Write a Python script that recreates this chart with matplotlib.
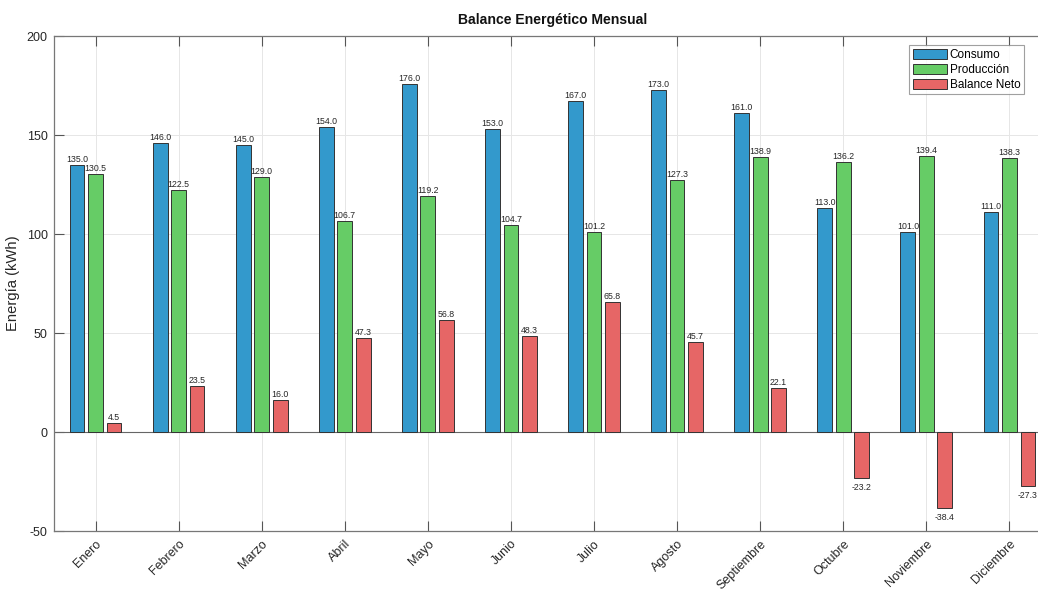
import matplotlib
import numpy as np

matplotlib.use("Agg")
import matplotlib.pyplot as plt  # noqa: E402

months = ["Enero", "Febrero", "Marzo", "Abril", "Mayo", "Junio", "Julio",
          "Agosto", "Septiembre", "Octubre", "Noviembre", "Diciembre"]
consumo = [135.0, 146.0, 145.0, 154.0, 176.0, 153.0, 167.0, 173.0, 161.0, 113.0, 101.0, 111.0]
produccion = [130.5, 122.5, 129.0, 106.7, 119.2, 104.7, 101.2, 127.3, 138.9, 136.2, 139.4, 138.3]
balance = [4.5, 23.5, 16.0, 47.3, 56.8, 48.3, 65.8, 45.7, 22.1, -23.2, -38.4, -27.3]

series = [
    ("Consumo", consumo, "#3399cc"),
    ("Producción", produccion, "#66cc66"),
    ("Balance Neto", balance, "#e66666"),
]

plt.rcParams["font.family"] = ["Liberation Sans", "DejaVu Sans"]
plt.rcParams["axes.unicode_minus"] = False

fig = plt.figure(figsize=(10.38, 5.92), dpi=100)
# the plot area runs past the right edge of the picture, as in the original
ax = fig.add_axes([0.052, 0.103, 0.9605, 0.836])

x = np.arange(1, len(months) + 1)
step = 0.2222
width = 0.178
text_color = "#262626"

for i, (name, values, color) in enumerate(series):
    pos = x + (i - 1) * step
    ax.bar(pos, values, width=width, color=color, edgecolor="#333333",
           linewidth=0.7, label=name, zorder=3)
    for px, v in zip(pos, values):
        if v >= 0:
            ax.text(px, v + 0.5, f"{v:.1f}", ha="center", va="bottom",
                    fontsize=6.3, color=text_color, zorder=4)
        else:
            ax.text(px, v - 2.5, f"{v:.1f}", ha="center", va="top",
                    fontsize=6.3, color=text_color, zorder=4)

ax.axhline(0, color="#666666", linewidth=0.8, zorder=2)

ax.set_xlim(0.5, 12.5)
ax.set_ylim(-50, 200)
ax.set_yticks([-50, 0, 50, 100, 150, 200])
ax.set_xticks(x)
ax.set_xticklabels(months, rotation=45, ha="right", rotation_mode="anchor")

ax.grid(True, color="#e6e6e6", linewidth=0.7, zorder=0)
ax.set_axisbelow(True)
ax.tick_params(direction="in", length=7, width=0.8, top=True, right=True,
               colors="#555555", labelcolor=text_color, labelsize=9)
ax.tick_params(axis="x", pad=5)
ax.tick_params(axis="y", pad=4.5)
for spine in ax.spines.values():
    spine.set_color("#777777")
    spine.set_linewidth(0.9)

ax.set_ylabel("Energía (kWh)", fontsize=10.6, color=text_color, labelpad=5)
fig.text(0.5323, 0.955, "Balance Energético Mensual", ha="center", va="bottom",
         fontsize=10.1, fontweight="bold", color="#111111")

leg = ax.legend(loc="upper right", bbox_to_anchor=(0.9865, 0.924),
                bbox_transform=fig.transFigure, prop={"size": 8.5}, frameon=True,
                fancybox=False, edgecolor="#888888", handlelength=2.9,
                handleheight=0.95, handletextpad=0.25, borderpad=0.3,
                labelspacing=0.25, borderaxespad=0)
leg.get_frame().set_linewidth(0.8)

fig.savefig("out.png", dpi=100)
